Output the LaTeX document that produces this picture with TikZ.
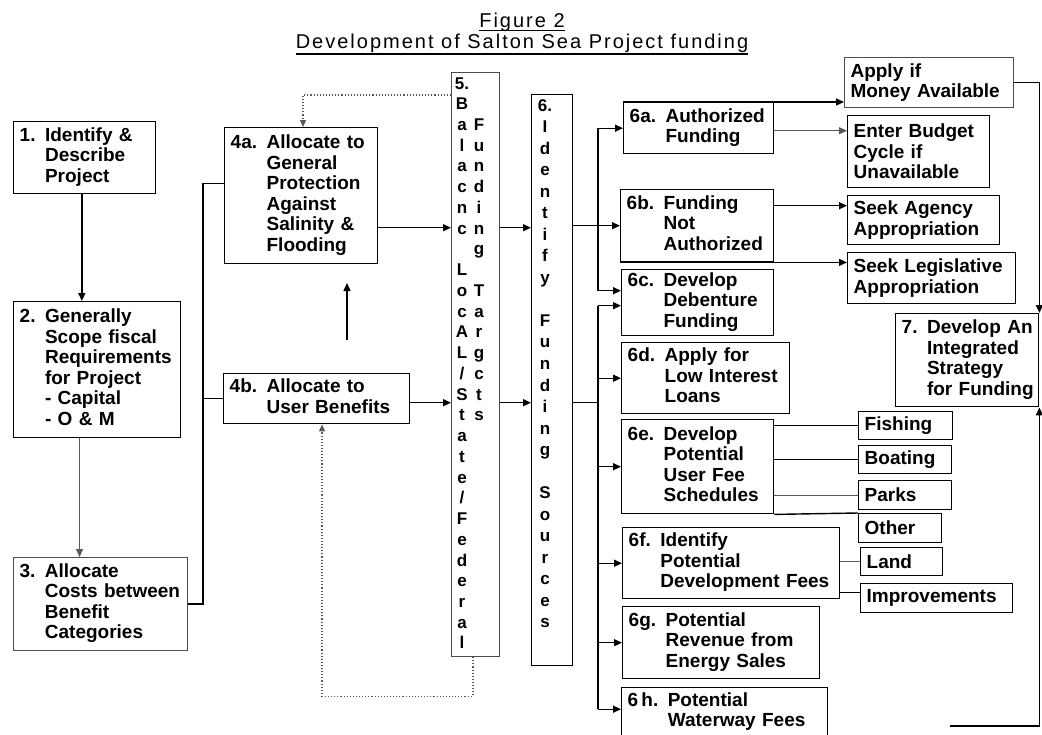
\documentclass[tikz,border=0pt]{standalone}
\usepackage{fontspec}
\setmainfont{Liberation Sans}
\newfontfamily\titlefam[LetterSpace=10]{Liberation Sans}
\usetikzlibrary{arrows.meta,calc}

\newcommand\boxfont{\fontsize{19}{20.5}\selectfont\bfseries}
\newcommand\titlefont{\titlefam\fontsize{20}{24}\selectfont}
\newcommand\fivefont{\fontsize{17}{20.74}\selectfont\bfseries}
\newcommand\sixfont{\fontsize{17}{21.54}\selectfont\bfseries}

\tikzset{
  box/.style={draw=black, line width=1.4pt, inner xsep=6pt, inner ysep=0pt,
              anchor=north west, align=left, font=\boxfont},
  thinbox/.style={draw=black!70, line width=1.1pt},
  conn/.style={draw=black, line width=1.4pt},
  thinconn/.style={draw=black!65, line width=1.1pt},
  arr/.style={conn, -{Triangle[length=8pt,width=7pt]}},
  thinarr/.style={thinconn, -{Triangle[length=8pt,width=7pt]}},
  dotarr/.style={draw=black!65, line width=1.1pt, dotted,
                 -{Triangle[length=7pt,width=6pt]}},
}

% box from corner (x1,y1) to (x2,y2), text set flush left
\newcommand\mkbox[7][]{%
  \pgfmathsetmacro\bxw{#5-#3}%
  \pgfmathsetmacro\bxh{#6-#4}%
  \pgfmathsetmacro\bxt{#5-#3-12}%
  \node[box,#1,minimum width=\bxw pt,minimum height=\bxh pt,text width=\bxt pt] (#2) at (#3,#4) {#7};}

\begin{document}
\begin{tikzpicture}[x=1pt,y=-1pt]
\path[use as bounding box] (0,0) rectangle (1042,734);
\clip (0,0) rectangle (1042,734);
\fill[white] (0,0) rectangle (1042,734);

% heading
\node[font=\titlefont, anchor=base, inner sep=0pt] (fig) at (522,27) {Figure 2};
\node[font=\titlefont, anchor=base, inner sep=0pt] (head) at (522,48) {Development of Salton Sea Project funding};
\draw[line width=1.3pt] ([yshift=-3.5pt]fig.base west) -- ([yshift=-3.5pt]fig.base east);
\draw[line width=1.3pt] ([yshift=-6pt]head.base west) -- ([yshift=-6pt]head.base east);

% left column
\mkbox{b1}{13}{121}{155}{193}{\begin{tabular}{@{}l@{ }l@{}}1. & Identify \&\\ & Describe\\ & Project\end{tabular}}
\mkbox{b2}{13}{301}{180}{437}{\begin{tabular}{@{}l@{ }l@{}}2. & Generally\\ & Scope fiscal\\ & Requirements\\ & for Project\\ & - Capital\\ & - O \& M\end{tabular}}
\mkbox[thinbox]{b3}{13}{557}{187}{650}{\begin{tabular}{@{}l@{ }l@{}}3. & Allocate\\ & Costs between\\ & Benefit\\ & Categories\end{tabular}}

% allocation boxes
\mkbox{b4a}{224}{127}{377}{263}{\begin{tabular}{@{}l@{ }l@{}}4a. & Allocate to\\ & General\\ & Protection\\ & Against\\ & Salinity \&\\ & Flooding\end{tabular}}
\mkbox{b4b}{223}{373}{409}{423}{\begin{tabular}{@{}l@{ }l@{}}4b. & Allocate to\\ & User Benefits\end{tabular}}

% tall boxes 5 and 6 with stacked letters
\mkbox[thinbox]{b5}{451}{72}{499}{656}{}
\mkbox{b6}{531}{94}{572}{665}{}
\node[font=\fivefont, anchor=base, inner sep=0pt] (fivea) at (462,89)
  {\begin{tabular}[t]{@{}c@{}}5.\\B\\a\\l\\a\\c\\n\\c\\{}\\L\\o\\c\\A\\L\\/\\S\\t\\a\\t\\e\\/\\F\\e\\d\\e\\r\\a\\l\end{tabular}};
\node[font=\fivefont, anchor=base, inner sep=0pt] (fiveb) at (479,89)
  {\begin{tabular}[t]{@{}c@{}}{}\\{}\\F\\u\\n\\d\\i\\n\\g\\{}\\T\\a\\r\\g\\c\\t\\s\end{tabular}};
\node[font=\sixfont, anchor=base, inner sep=0pt] (sixt) at (545,111)
  {\begin{tabular}[t]{@{}c@{}}6.\\I\\d\\e\\n\\t\\i\\f\\y\\{}\\F\\u\\n\\d\\i\\n\\g\\{}\\S\\o\\u\\r\\c\\e\\s\end{tabular}};

% funding source boxes
\mkbox{b6a}{623}{102}{773}{153}{\begin{tabular}{@{}l@{ }l@{}}6a. & Authorized\\ & Funding\end{tabular}}
\mkbox{b6b}{620}{189}{773}{261}{\begin{tabular}{@{}l@{ }l@{}}6b. & Funding\\ & Not\\ & Authorized\end{tabular}}
\mkbox{b6c}{621}{269}{773}{335}{\begin{tabular}{@{}l@{ }l@{}}6c. & Develop\\ & Debenture\\ & Funding\end{tabular}}
\mkbox{b6d}{621}{342}{789}{413}{\begin{tabular}{@{}l@{ }l@{}}6d. & Apply for\\ & Low Interest\\ & Loans\end{tabular}}
\mkbox{b6e}{621}{419}{773}{513}{\begin{tabular}{@{}l@{ }l@{}}6e. & Develop\\ & Potential\\ & User Fee\\ & Schedules\end{tabular}}
\mkbox{b6f}{622}{527}{839}{598}{\begin{tabular}{@{}l@{ }l@{}}6f. & Identify\\ & Potential\\ & Development Fees\end{tabular}}
\mkbox{b6g}{622}{606}{819}{678}{\begin{tabular}{@{}l@{ }l@{}}6g. & Potential\\ & Revenue from\\ & Energy Sales\end{tabular}}
\mkbox{b6h}{621}{687}{827}{736}{\begin{tabular}{@{}l@{ }l@{}}6\,h. & Potential\\ & Waterway Fees\end{tabular}}

% outcome boxes
\mkbox[thinbox]{apply}{844}{57}{1013}{107}{Apply if\\Money Available}
\mkbox{enter}{847}{115}{989}{187}{Enter Budget\\Cycle if\\Unavailable}
\mkbox{agency}{847}{195}{999}{244}{Seek Agency\\Appropriation}
\mkbox{legis}{847}{252}{1015}{303}{Seek Legislative\\Appropriation}
\mkbox{b7}{895}{313}{1038}{406}{\begin{tabular}{@{}l@{ }l@{}}7. & Develop An\\ & Integrated\\ & Strategy\\ & for Funding\end{tabular}}
\mkbox{fish}{858}{411}{952}{439}{Fishing}
\mkbox{boat}{858}{445}{951}{473}{Boating}
\mkbox{parks}{858}{480}{951}{509}{Parks}
\mkbox{other}{858}{513}{941}{542}{Other}
\mkbox{land}{860}{547}{942}{575}{Land}
\mkbox{impr}{860}{583}{1012}{612}{Improvements}

% ---- connectors ----
\draw[arr] ($(b1.south west)!0.48!(b1.south east)$) coordinate (p12) -- (p12 |- b2.north);
\draw[thinarr] ($(b2.south west)!0.395!(b2.south east)$) coordinate (p23) -- (p23 |- b3.north);

\coordinate (busL) at (203,0);
\coordinate (j4a) at ([yshift=12pt]b4a.west);
\draw[conn] (b3.east) -| (j4a -| busL) -- (j4a);
\draw[conn] (b4b.west -| busL) -- (b4b.west);

\coordinate (a4a) at ([yshift=-32pt]b4a.east);
\coordinate (a4b) at ([yshift=-4pt]b4b.east);
\draw[arr] (a4a) -- (a4a -| b5.west);
\draw[arr] (a4b) -- (a4b -| b5.west);

\coordinate (upS) at (347,340);
\coordinate (upE) at (347,283);
\draw[arr] (upS) -- (upE);

\coordinate (d1) at ([yshift=-23pt]b5.north west);
\draw[dotarr] (d1) -| ($(b4a.north west)+(79,0)$);
\coordinate (d2) at ($(b5.south west)+(22,0)$);
\draw[dotarr] (d2) -- ++(0,39) -| ($(b4b.south west)+(99,0)$);

\draw[arr] (a4a -| b5.east) -- (a4a -| b6.west);
\draw[arr] (a4b -| b5.east) -- (a4b -| b6.west);

\coordinate (busR) at (598,0);
\draw[arr] (b6.east |- b6b.west) -- (b6b.west);
\draw[arr] (busR |- b6b.west) |- (b6a.west);
\coordinate (c6c1) at ([yshift=12pt]b6c.west);
\draw[arr] (busR |- b6b.west) |- (c6c1);

\coordinate (c6c2) at ([yshift=-3pt]b6c.west);
\coordinate (c6h) at ([yshift=3pt]b6h.west);
\draw[conn] (a4b -| b6.east) -- (a4b -| busR);
\draw[conn] (busR |- c6c2) -- (busR |- c6h);
\foreach \t in {c6c2,b6d.west,b6e.west,b6f.west,b6g.west,c6h}
  \draw[arr] (busR |- \t) -- (\t);

\draw[arr] (b6a.north west) -- (b6a.north west -| apply.west);
\coordinate (e6a) at ([yshift=-2.5pt]b6a.east);
\draw[thinarr] (e6a) -- (e6a -| enter.west);
\coordinate (e6b) at ([yshift=20pt]b6b.east);
\draw[arr] (e6b) -- (e6b -| agency.west);
\draw[arr] (b6b.south west) -- (b6b.south west -| legis.west);
\draw[arr] (apply.east) -| (b7.north east);
\coordinate (tail) at (950,726);
\draw[arr] (tail) -| (b7.south east);

\draw[conn] (fish.west -| b6e.east) -- (fish.west);
\draw[conn] (boat.west -| b6e.east) -- (boat.west);
\draw[thinconn] (parks.west -| b6e.east) -- (parks.west);
\draw[conn] (b6e.south east) -- (other.north west);
\draw[thinconn] (land.west -| b6f.east) -- (land.west);
\coordinate (im) at ([yshift=6pt]impr.west);
\draw[conn] (im -| b6f.east) -- (im);
\end{tikzpicture}
\end{document}
